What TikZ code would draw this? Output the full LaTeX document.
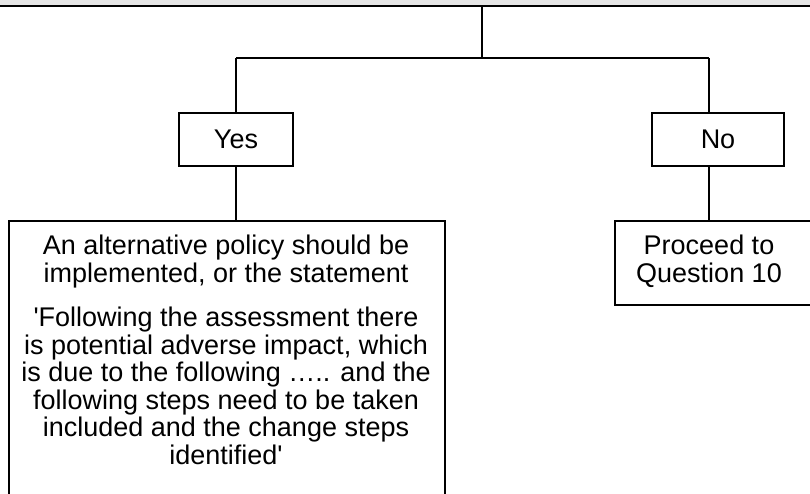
\documentclass[tikz,border=0pt]{standalone}
\usepackage{fontspec}
% plain family: keeps the straight apostrophe as typed
\newfontfamily\arialfont{Liberation Sans}
\begin{document}
\begin{tikzpicture}[x=1pt,y=-1pt,
  line width=2pt,
  txt/.style={font=\arialfont\fontsize{27}{27.5}\selectfont, align=center, inner sep=0pt},
  labelbox/.style={draw, txt, minimum height=53pt}]
\useasboundingbox (0,0) rectangle (810,494);
\clip (0,0) rectangle (810,494);
% top band and the bottom edge of the box above
\fill[black!10] (0,0) rectangle (810,5);
\coordinate (edgeL) at (-5,6);
\coordinate (edgeR) at (815,6);
\draw (edgeL) -- (edgeR);
% branch lines
\coordinate (root) at (482,6);
\coordinate (split) at (482,58);
\coordinate (splitL) at (236,58);
\coordinate (splitR) at (709,58);
% answer boxes
\node[labelbox, minimum width=114pt] (yes) at (236,139.5) {Yes};
\node[labelbox, minimum width=132pt] (no) at (718,139.5) {No};
% outcome boxes
\node[draw, minimum width=436pt, minimum height=320pt, anchor=north west, inner sep=0pt] (alt) at (8,220) {};
\node[txt, anchor=north] (altText) at (226,234) {An alternative policy should be\\implemented, or the statement\\[17pt]
'Following the assessment there\\is potential adverse impact, which\\is due to the following \textellipsis.. and the\\following steps need to be taken\\included and the change steps\\identified'};
\node[draw, minimum width=220pt, minimum height=84pt, anchor=north west, inner sep=0pt] (next) at (614,220) {};
\node[txt, anchor=north] (nextText) at (709,234) {Proceed to\\Question 10};
\coordinate (noBot) at (709,166);
\coordinate (noTop) at (709,113);
% connectors
\draw (root) -- (split);
\draw (splitL) -- (splitR);
\draw (splitL) -- (yes.north);
\draw (splitR) -- (noTop);
\draw (yes.south) -- (yes.south |- alt.north);
\draw (noBot) -- (noBot |- next.north);
\end{tikzpicture}
\end{document}
